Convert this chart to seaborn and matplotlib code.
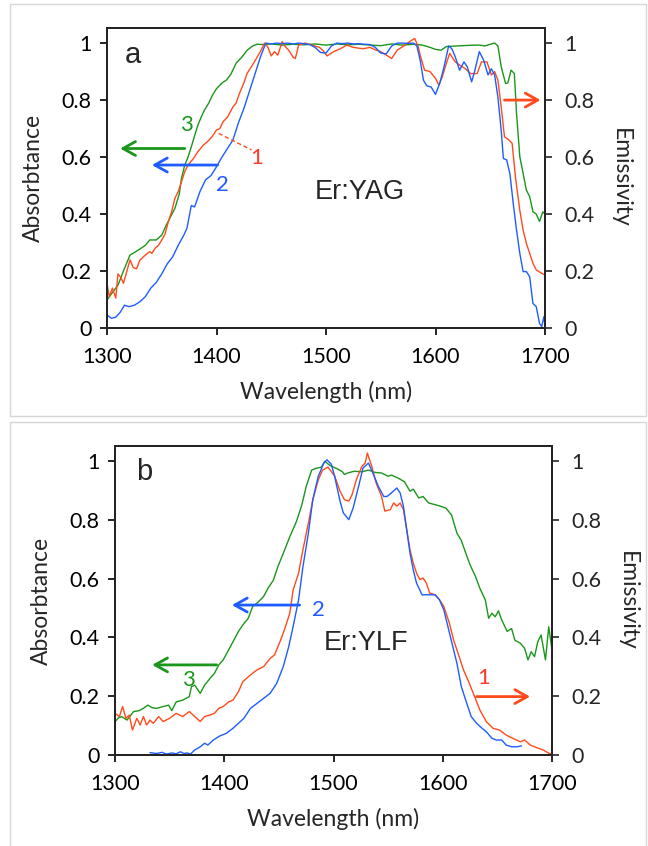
import matplotlib
matplotlib.use("Agg")
import matplotlib.pyplot as plt
import seaborn as sns
import numpy as np
from matplotlib.patches import Rectangle

# ---------------- data: panel a (Er:YAG) ----------------
a_red_x = [1300,1302,1305,1308,1310,1313,1315,1318,1321,1324,1327,1330,1335,1339,1341,1344,1347,1350,1353,1356,
           1359,1362,1365,1368,1371,1374,1379,1383,1388,1392,1396,1400,1403,1406,1410,1415,1418,1421,1425,1428,
           1434,1440,1444,1447,1450,1453,1456,1460,1463,1466,1470,1472,1475,1481,1487,1494,1497,1501,1507,1513,
           1519,1525,1534,1540,1546,1550,1555,1560,1565,1571,1577,1581,1584,1586,1590,1595,1600,1603,1606,1610,
           1613,1618,1622,1627,1632,1638,1642,1647,1651,1654,1657,1660,1663,1667,1670,1673,1677,1680,1683,1686,
           1689,1692,1697,1700]
a_red_y = [.157,.11,.14,.105,.19,.175,.157,.198,.239,.212,.208,.238,.256,.268,.262,.28,.29,.309,.33,.373,
           .408,.455,.478,.513,.549,.572,.595,.619,.642,.655,.672,.695,.70,.724,.74,.776,.79,.824,.86,.894,
           .93,.97,1.0,.985,.955,.97,.958,1.005,.987,.975,.95,.946,.993,1.0,.993,.985,.975,.955,.97,.98,
           .993,.985,.98,.985,.975,.97,.958,.946,.975,.99,1.007,1.016,.99,.958,.905,.90,.876,.853,.88,.93,
           .964,.934,.923,.911,.893,.893,.934,.934,.888,.90,.87,.776,.671,.66,.648,.53,.413,.344,.297,.262,
           .227,.204,.192,.186]

a_blue_x = [1300,1304,1308,1312,1316,1320,1325,1330,1335,1340,1345,1350,1355,1360,1365,1370,1373,1377,1380,1385,
            1390,1395,1400,1405,1410,1415,1420,1425,1430,1435,1440,1445,1450,1455,1460,1465,1470,1475,1480,1485,
            1490,1495,1500,1505,1510,1515,1520,1525,1530,1535,1540,1545,1550,1555,1560,1565,1570,1575,1580,1583,
            1586,1589,1592,1596,1600,1604,1608,1612,1615,1618,1622,1626,1629,1633,1636,1640,1644,1648,1651,1654,
            1657,1660,1662,1665,1668,1671,1674,1677,1680,1683,1686,1689,1692,1695,1697,1699,1700]
a_blue_y = [.046,.034,.038,.055,.08,.075,.08,.092,.11,.14,.16,.19,.225,.25,.29,.325,.35,.43,.425,.48,
            .52,.535,.566,.60,.63,.66,.72,.77,.83,.89,.95,1.0,.997,1.0,.998,1.0,.997,1.0,.998,.995,
            .985,.967,.965,.99,1.0,.998,1.0,.997,.998,.996,.995,.985,.965,.962,.99,1.0,1.0,.999,1.0,.99,
            .94,.87,.85,.846,.82,.86,.92,.99,.98,.952,.905,.934,.917,.864,.905,.97,.94,.888,.91,.888,
            .81,.694,.595,.59,.54,.437,.344,.262,.198,.198,.18,.086,.075,.016,.005,.04,.01]

a_green_x = [1300,1305,1310,1315,1321,1325,1330,1335,1339,1345,1350,1354,1358,1362,1366,1368,1371,1374,1377,1380,
             1383,1386,1389,1393,1396,1400,1405,1409,1413,1418,1423,1428,1433,1437,1442,1450,1460,1470,1480,1490,
             1500,1510,1520,1530,1540,1550,1560,1570,1580,1588,1595,1600,1605,1610,1620,1630,1640,1645,1650,1654,
             1657,1660,1664,1666,1669,1672,1674,1677,1680,1683,1686,1689,1692,1695,1698,1700]
a_green_y = [.098,.125,.15,.20,.256,.265,.277,.29,.309,.309,.326,.36,.39,.42,.47,.525,.572,.60,.636,.675,
             .712,.74,.765,.79,.815,.84,.86,.87,.89,.93,.95,.975,.99,.996,.995,.997,.993,.996,.994,.997,
             .993,.997,.994,.996,.993,.991,.997,.993,.996,.993,.985,.978,.975,.988,.99,.992,.993,.99,.996,1.0,
             .99,.917,.858,.86,.905,.893,.753,.601,.543,.484,.461,.408,.40,.374,.408,.40]

# ---------------- data: panel b (Er:YLF) ----------------
b_red_x = [1300,1304,1307,1310,1313,1316,1320,1323,1326,1329,1332,1335,1340,1344,1350,1356,1362,1368,1373,1378,
           1382,1387,1391,1395,1399,1404,1408,1413,1417,1424,1430,1436,1442,1446,1451,1455,1460,1463,1468,1472,
           1477,1481,1486,1490,1495,1501,1506,1510,1514,1517,1521,1526,1529,1531,1535,1539,1544,1547,1552,1555,
           1558,1561,1564,1567,1570,1573,1576,1579,1582,1585,1588,1593,1597,1601,1606,1610,1613,1619,1623,1628,
           1634,1640,1646,1652,1658,1664,1671,1675,1680,1686,1692,1697,1700]
b_red_y = [.141,.13,.164,.124,.135,.084,.124,.101,.13,.101,.118,.107,.13,.113,.124,.141,.13,.147,.13,.113,
           .13,.135,.141,.158,.164,.18,.186,.215,.249,.272,.289,.30,.328,.34,.385,.425,.482,.561,.618,.698,
           .789,.868,.936,.97,.98,.95,.898,.869,.864,.886,.938,.983,.994,1.028,.983,.926,.88,.83,.835,.858,
           .847,.858,.835,.767,.699,.653,.619,.597,.602,.585,.551,.545,.528,.505,.449,.39,.357,.289,.255,.209,
           .152,.112,.09,.084,.067,.056,.044,.05,.033,.024,.016,.005,.002]

b_blue_x = [1332,1338,1343,1347,1352,1356,1360,1363,1366,1369,1373,1378,1382,1385,1390,1396,1402,1408,1413,1418,
            1424,1430,1436,1442,1448,1454,1459,1463,1468,1472,1477,1481,1486,1491,1494,1498,1501,1506,1509,1514,
            1518,1523,1527,1532,1536,1541,1546,1549,1553,1558,1561,1564,1567,1570,1573,1576,1581,1587,1593,1597,
            1601,1607,1613,1617,1622,1626,1631,1636,1640,1645,1649,1654,1658,1663,1668,1672]
b_blue_y = [.007,.004,.008,.002,.006,.003,.01,.004,.006,.002,.016,.027,.039,.033,.05,.064,.073,.09,.107,.124,
            .158,.175,.192,.209,.243,.30,.368,.436,.527,.64,.755,.868,.948,.993,1.005,.99,.949,.864,.824,.801,
            .841,.915,.977,.994,.96,.915,.88,.88,.892,.909,.892,.847,.767,.688,.63,.585,.545,.545,.545,.528,
            .493,.402,.311,.232,.175,.13,.107,.09,.078,.056,.05,.05,.033,.027,.027,.03]

b_green_x = [1300,1303,1306,1311,1317,1322,1326,1330,1334,1338,1344,1349,1352,1356,1362,1368,1370,1373,1378,1382,
             1387,1391,1395,1399,1404,1408,1413,1417,1422,1426,1431,1436,1440,1445,1449,1454,1460,1466,1471,1475,
             1480,1484,1489,1492,1497,1503,1508,1510,1513,1519,1526,1532,1538,1544,1550,1553,1559,1565,1570,1573,
             1578,1582,1587,1593,1597,1603,1608,1613,1617,1620,1625,1630,1634,1639,1642,1645,1648,1651,1654,1659,
             1663,1666,1671,1675,1678,1681,1684,1687,1690,1694,1697,1700]
b_green_y = [.112,.125,.13,.118,.147,.15,.158,.169,.16,.158,.164,.169,.15,.18,.186,.198,.232,.237,.209,.237,
             .26,.277,.306,.323,.357,.385,.42,.442,.465,.505,.52,.539,.567,.595,.64,.686,.743,.794,.851,.914,
             .97,.976,.98,1.0,.985,.975,.965,.955,.96,.966,.964,.97,.962,.96,.949,.953,.943,.93,.898,.905,
             .875,.88,.858,.852,.848,.84,.817,.755,.73,.698,.647,.607,.567,.527,.465,.482,.47,.49,.459,.42,
             .43,.39,.38,.362,.323,.351,.334,.385,.408,.323,.436,.357]

x_ticks = [1300, 1400, 1500, 1600, 1700]
y_ticks = [0, 0.2, 0.4, 0.6, 0.8, 1]
y_tick_labels = ["0", "0.2", "0.4", "0.6", "0.8", "1"]

RED = "#ff4a1c"
BLUE = "#1f5cff"
GREEN = "#1a961a"

sns.set_theme(style="ticks")
plt.rcParams["font.family"] = ["Lato", "DejaVu Sans"]

fig = plt.figure(figsize=(6.48, 8.46), dpi=100)
fig.patch.set_facecolor("white")

# panel frames
fig.add_artist(Rectangle((10/648, 1-416/846), 636/648, 412/846, transform=fig.transFigure,
                         fill=False, ec="#d6d6d6", lw=1.0))
fig.add_artist(Rectangle((10/648, -0.01), 636/648, 1-422/846+0.01, transform=fig.transFigure,
                         fill=False, ec="#d6d6d6", lw=1.0))

ax_a = fig.add_axes([107/648, 1-328/846, 438/648, 300/846])
ax_b = fig.add_axes([115/648, 1-754.7/846, 437/648, 308.4/846])

LW = 1.0
TICK_FS = 15.5
LABEL_FS = 16.5


def style_axes(ax, ytop):
    ax.set_xlim(1300, 1700)
    ax.set_ylim(0, ytop)
    ax.set_xticks(x_ticks)
    ax.set_xticklabels([str(t) for t in x_ticks])
    ax.set_yticks(y_ticks)
    ax.set_yticklabels(y_tick_labels)
    ax.tick_params(axis="both", direction="out", length=5, width=1.2, labelsize=TICK_FS, colors="black")
    ax.tick_params(axis="x", pad=9)
    ax.tick_params(axis="y", pad=6)
    for s in ax.spines.values():
        s.set_visible(True)
        s.set_linewidth(1.3)
        s.set_color("black")
    ax.set_xlabel("Wavelength (nm)", fontsize=LABEL_FS, labelpad=10)
    ax.set_ylabel("Absorbtance", fontsize=LABEL_FS, labelpad=13)
    ax.set_facecolor("white")
    ax2 = ax.twinx()
    ax2.set_ylim(0, ytop)
    ax2.set_yticks(y_ticks)
    ax2.set_yticklabels(y_tick_labels)
    ax2.tick_params(axis="y", direction="out", length=5, width=1.2, labelsize=TICK_FS, pad=9)
    for s in ax2.spines.values():
        s.set_linewidth(1.3)
    ax2.set_ylabel("Emissivity", fontsize=LABEL_FS, rotation=270, labelpad=26)
    return ax2


def arrow(ax, tail, head, color):
    ax.annotate("", xy=head, xytext=tail,
                arrowprops=dict(arrowstyle="->,head_length=0.45,head_width=0.25", color=color,
                                lw=2.0, mutation_scale=20, shrinkA=0, shrinkB=0))


# ---- panel a ----
sns.lineplot(x=a_green_x, y=a_green_y, ax=ax_a, color=GREEN, lw=LW, estimator=None)
sns.lineplot(x=a_red_x, y=a_red_y, ax=ax_a, color=RED, lw=LW, estimator=None)
sns.lineplot(x=a_blue_x, y=a_blue_y, ax=ax_a, color=BLUE, lw=LW, estimator=None)
style_axes(ax_a, 1.053)

arrow(ax_a, (1371, 0.63), (1312, 0.63), GREEN)
arrow(ax_a, (1401, 0.572), (1341, 0.572), BLUE)
arrow(ax_a, (1663, 0.80), (1696, 0.80), RED)
ax_a.plot([1402, 1432], [0.683, 0.625], ls=(0, (3, 2)), color=RED, lw=1.0)
ax_a.text(1373, 0.712, "3", color=GREEN, fontsize=16, ha="center", va="center")
ax_a.text(1405, 0.502, "2", color=BLUE, fontsize=16, ha="center", va="center")
ax_a.text(1437, 0.597, "1", color="#ff3a2a", fontsize=16, ha="center", va="center")
ax_a.text(1531, 0.478, "Er:YAG", fontsize=19.5, ha="center", va="center", family="Liberation Sans")
ax_a.text(1324, 0.958, "a", fontsize=21, ha="center", va="center", family="Liberation Sans")

# ---- panel b ----
sns.lineplot(x=b_green_x, y=b_green_y, ax=ax_b, color=GREEN, lw=LW, estimator=None)
sns.lineplot(x=b_red_x, y=b_red_y, ax=ax_b, color=RED, lw=LW, estimator=None)
sns.lineplot(x=b_blue_x, y=b_blue_y, ax=ax_b, color=BLUE, lw=LW, estimator=None)
style_axes(ax_b, 1.051)

arrow(ax_b, (1469, 0.51), (1407, 0.51), BLUE)
arrow(ax_b, (1393, 0.306), (1334, 0.306), GREEN)
arrow(ax_b, (1631, 0.198), (1680, 0.198), RED)
ax_b.text(1486, 0.493, "2", color=BLUE, fontsize=16, ha="center", va="center")
ax_b.text(1367, 0.255, "3", color=GREEN, fontsize=16, ha="center", va="center")
ax_b.text(1637, 0.26, "1", color="#ff3a2a", fontsize=16, ha="center", va="center")
ax_b.text(1530, 0.382, "Er:YLF", fontsize=19.5, ha="center", va="center", family="Liberation Sans")
ax_b.text(1327, 0.963, "b", fontsize=21, ha="center", va="center", family="Liberation Sans")

fig.savefig("out.png", dpi=100, facecolor="white")
